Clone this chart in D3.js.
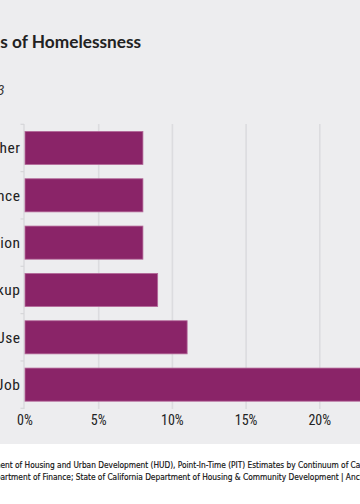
<!DOCTYPE html>
<html>
<head>
<meta charset="utf-8">
<script src="https://cdn.jsdelivr.net/npm/d3@7"></script>
<style>
  html, body { margin: 0; padding: 0; background: #ffffff; overflow: hidden; }
  svg { display: block; overflow: hidden; }
</style>
</head>
<body>
<svg id="chart" width="360" height="504"></svg>
<script>
// ---- data ----
const categories = ["Other", "Domestic Violence", "Eviction", "Breakup", "Substance Use", "Lost Job"];
const values = [8, 8, 8, 9, 11, 24];
const xTicks = [0, 5, 10, 15, 20, 25];
const title = "Top Causes of Homelessness";
const subtitle = "Los Angeles County, 2023";
const sourceLine1 = "Sources: U.S. Department of Housing and Urban Development (HUD), Point-In-Time (PIT) Estimates by Continuum of Care (CoC);";
const sourceLine2 = "California Department of Finance; State of California Department of Housing & Community Development | Anchor Economics";

const svg = d3.select("#chart");
const W = 360, H = 504;

// backgrounds
svg.append("rect").attr("x", 0).attr("y", 0).attr("width", W).attr("height", H).attr("fill", "#ffffff");
svg.append("rect").attr("x", 0).attr("y", 0).attr("width", W).attr("height", 444).attr("fill", "#ededef");

// scales
const x = d3.scaleLinear().domain([0, 25]).range([25, 25 + 14.74 * 25]);
const y = d3.scaleBand().domain(categories).range([124.3, 408.3]).paddingInner(0.3).paddingOuter(0.15);
const step = y.step();

// gridlines
svg.append("g").selectAll("line").data(xTicks.filter(d => d > 0)).join("line")
  .attr("x1", d => x(d)).attr("x2", d => x(d))
  .attr("y1", 124).attr("y2", 409)
  .attr("stroke", "#dcdcdf").attr("stroke-width", 1.6);

// left axis line + ticks at band boundaries
const axisG = svg.append("g");
axisG.append("line").attr("x1", 24).attr("x2", 24).attr("y1", 124).attr("y2", 409)
  .attr("stroke", "#d6d6d9").attr("stroke-width", 1.2);
const bounds = categories.map(c => y(c) - step * 0.15).concat([y(categories[categories.length - 1]) - step * 0.15 + step]);
axisG.selectAll("line.tk").data(bounds).join("line").attr("class", "tk")
  .attr("x1", 20.5).attr("x2", 24).attr("y1", d => d).attr("y2", d => d)
  .attr("stroke", "#d6d6d9").attr("stroke-width", 1.2);

// bars
svg.append("g").selectAll("rect").data(categories).join("rect")
  .attr("x", x(0))
  .attr("y", d => y(d))
  .attr("width", (d, i) => x(values[i]) - x(0))
  .attr("height", y.bandwidth())
  .attr("fill", "#8a2468")
  .attr("stroke", "#b46a9a")
  .attr("stroke-width", 0.8);

// category labels
const catFont = "'Liberation Sans Narrow', 'Roboto Condensed', 'DejaVu Sans Condensed', 'Open Sans', sans-serif";
svg.append("g").selectAll("text").data(categories).join("text")
  .attr("x", 20.5)
  .attr("y", d => y(d) + y.bandwidth() / 2)
  .attr("dy", "0.35em")
  .attr("text-anchor", "end")
  .attr("font-family", catFont)
  .attr("font-size", 15.5)
  .attr("letter-spacing", 0.5)
  .attr("fill", "#222")
  .text(d => d);

// x tick labels
svg.append("g").selectAll("text").data(xTicks).join("text")
  .attr("x", d => x(d))
  .attr("y", 424.5)
  .attr("text-anchor", "middle")
  .attr("font-family", catFont)
  .attr("font-size", 14)
  .attr("fill", "#222")
  .text(d => d + "%");

// title: visible part "s of Homelessness" spans x 0..141
{
  const t = svg.append("text")
    .attr("x", 0).attr("y", 48)
    .attr("font-family", "Lato, 'Open Sans', sans-serif")
    .attr("font-weight", "bold")
    .attr("font-size", 17)
    .attr("fill", "#222")
    .text(title);
  const i0 = title.indexOf("s of Home");
  const n = t.node();
  const w = n.getSubStringLength(i0, title.length - i0);
  t.attr("font-size", 17 * 141 / w);
  const off = n.getStartPositionOfChar(i0).x;
  t.attr("x", -off + 0.3);
}

// subtitle
svg.append("text")
  .attr("x", 4.5).attr("y", 95)
  .attr("text-anchor", "end")
  .attr("font-family", "Lato, 'Open Sans', sans-serif")
  .attr("font-style", "italic")
  .attr("font-size", 14)
  .attr("fill", "#333")
  .text(subtitle);

// source lines: align the visible part like the reference
function placeLine(str, visibleStart, visibleEndStr, yPos) {
  const t = svg.append("text")
    .attr("x", 0).attr("y", yPos)
    .attr("font-family", "'Liberation Sans Narrow', 'DejaVu Sans Condensed', sans-serif")
    .attr("font-size", 10)
    .attr("fill", "#111")
    .attr("stroke", "#111")
    .attr("stroke-width", 0.15)
    .text(str);
  const i0 = str.indexOf(visibleStart);
  const i1 = str.indexOf(visibleEndStr) + visibleEndStr.length;
  const w = t.node().getStartPositionOfChar(i1).x - t.node().getStartPositionOfChar(i0).x;
  const fs = 10 * 360 / w;
  t.attr("font-size", fs);
  const off = t.node().getStartPositionOfChar(i0).x;
  t.attr("x", -off + 0.5);
}
placeLine(sourceLine1, "ent of Housing", "Continuum of Ca", 468);
placeLine(sourceLine2, "artment of Finance", "| Anc", 479.5);
</script>
</body>
</html>
